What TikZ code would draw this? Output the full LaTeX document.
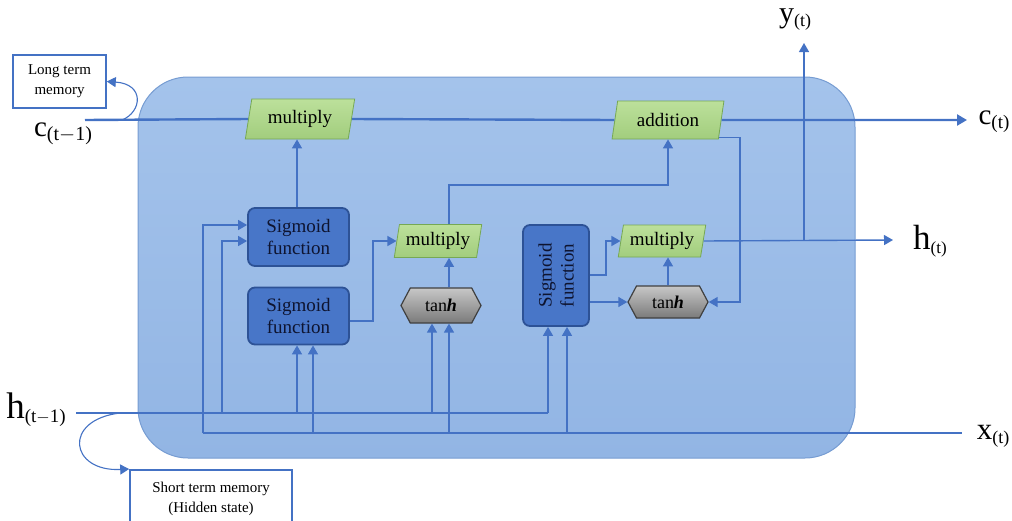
\documentclass[tikz,border=0pt]{standalone}
\usepackage{fontspec}
\setmainfont{Liberation Serif}
\usetikzlibrary{shapes.geometric,shapes.symbols,arrows.meta,calc}
\definecolor{lineblue}{RGB}{68,114,196}
\definecolor{celltop}{RGB}{164,195,235}
\definecolor{cellbot}{RGB}{146,181,228}
\definecolor{celledge}{RGB}{118,156,210}
\definecolor{sigfill}{RGB}{72,118,200}
\definecolor{sigedge}{RGB}{45,82,150}
\definecolor{sigtext}{RGB}{14,20,48}
\definecolor{greentop}{RGB}{188,224,155}
\definecolor{greenbot}{RGB}{162,205,125}
\definecolor{greenedge}{RGB}{118,168,84}
\newcommand\lblx[4]{{\fontsize{#3}{#3}\selectfont #1}\raisebox{-4pt}{\fontsize{#4}{#4}\selectfont #2}}
\begin{document}
\begin{tikzpicture}[x=1pt,y=-1pt,
  cell/.style={draw=celledge,line width=1pt,top color=celltop,bottom color=cellbot,rounded corners=50pt},
  sigbox/.style={draw=sigedge,line width=1.8pt,fill=sigfill,rounded corners=7pt,text=sigtext,
     font=\fontsize{19}{22}\selectfont,align=center,inner sep=1pt},
  opbox/.style={trapezium,trapezium left angle=77,trapezium right angle=103,trapezium stretches=true,
     draw=greenedge,line width=0.8pt,top color=greentop,bottom color=greenbot,
     font=\fontsize{19}{19}\selectfont,inner sep=1pt},
  tanhbox/.style={signal,signal to=east and west,signal pointer angle=124,draw=black!75,line width=1.2pt,
     top color=black!22,bottom color=black!52,font=\fontsize{18}{18}\selectfont,inner sep=1pt},
  memo/.style={draw=lineblue,line width=1.6pt,fill=white,align=center,font=\fontsize{15}{20}\selectfont},
  flow/.style={draw=lineblue,line width=1.4pt},
  arr/.style={flow,-{Triangle[width=10pt,length=9pt]}},
  main/.style={draw=lineblue,line width=2.4pt},
  lbl/.style={inner sep=0pt}]
\useasboundingbox (0,0) rectangle (1012,520);
\clip (0,0) rectangle (1012,520);

% cell body
\node[cell,minimum width=717pt,minimum height=381pt,inner sep=0pt] (cell) at (496.5,267.5) {};

% memory boxes
\node[memo,minimum width=93pt,minimum height=53pt,inner sep=0pt] (ltm) at (59.5,81.5) {Long term\\memory};
\node[memo,minimum width=162pt,minimum height=58pt,inner sep=0pt,anchor=north] (stm) at (211,469) {Short term memory\\(Hidden state)};

% operation nodes
\node[opbox,minimum width=110pt,minimum height=40pt] (mulA) at (300,119) {multiply};
\node[opbox,minimum width=112pt,minimum height=38pt] (add) at (668,120) {addition};
\node[opbox,minimum width=88pt,minimum height=33pt] (mulB) at (438,241) {multiply};
\node[opbox,minimum width=88pt,minimum height=32pt] (mulC) at (662,241) {multiply};
\node[sigbox,minimum width=101pt,minimum height=58pt] (sigA) at (298.5,237) {Sigmoid\\function};
\node[sigbox,minimum width=101pt,minimum height=57pt] (sigB) at (298.5,316) {Sigmoid\\function};
\node[sigbox,rotate=90,minimum width=101pt,minimum height=66pt] (sigC) at (556,275.5) {Sigmoid\\function};
\node[tanhbox,minimum width=80pt,minimum height=35pt] (tanhA) at (441,305.5) {tan\textbf{\textit{h}}};
\node[tanhbox,minimum width=80pt,minimum height=32pt] (tanhC) at (668,302) {tan\textbf{\textit{h}}};

% labels
\node[lbl] (lc0) at (63,134) {\lblx{c}{(t$-$1)}{29}{20}};
\node[lbl] (lh0) at (36,410) {\lblx{h}{(t$-$1)}{37}{19}};
\node[lbl] (ly) at (795,20) {\lblx{y}{(t)}{30}{18}};
\node[lbl] (lc) at (994,122) {\lblx{c}{(t)}{29}{19}};
\node[lbl] (lh) at (930,241) {\lblx{h}{(t)}{35}{17}};
\node[lbl] (lx) at (993,436) {\lblx{x}{(t)}{31}{18}};

% coordinates
\coordinate (cin) at (85,120);
\coordinate (cout) at (967,120);
\coordinate (ltstart) at (122,120);
\coordinate (ststart) at (120,413);
\coordinate (hin) at (76,413);
\coordinate (hrow) at (0,413);
\coordinate (xrow) at (0,433);
\coordinate (xend) at (962,433);
\coordinate (vx1) at (203,433);
\coordinate (vh1) at (222,413);
\coordinate (colB) at (449,0);
\coordinate (rowB) at (0,185);
\coordinate (colS) at (373,0);
\coordinate (colC) at (606,0);
\coordinate (colR) at (740,0);
\coordinate (jY) at (804,240);
\coordinate (ytip) at (804,43);
\coordinate (hout) at (893,240);
\coordinate (cB1) at (297,0);
\coordinate (cB2) at (313,0);
\coordinate (cT1) at (432,0);
\coordinate (cT2) at (449,0);
\coordinate (cS1) at (548,0);
\coordinate (cS2) at (567,0);

% cell state line
\draw[main] (cin) -- (mulA.west);
\draw[main] (mulA.east) -- (add.west);
\draw[main,-{Triangle[width=11pt,length=10pt]}] (add.east) -- (cout);
\draw[flow,line width=1.1pt,-{Triangle[width=10pt,length=9pt]}] (ltstart) .. controls (142,112) and (145,84) .. (ltm.east);

% hidden / input rows
\draw[main] (hin) -- (cS1 |- hrow);
\draw[main] (vx1) -- (xend);
\draw[flow,line width=1.1pt,-{Triangle[width=10pt,length=9pt]}] (ststart) .. controls (62,420) and (70,472) .. (stm.north west);

% branches to gates
\draw[arr] (vx1) |- ([yshift=12pt]sigA.west);
\draw[arr] (vh1) |- ([yshift=-4pt]sigA.west);
\draw[arr] (cB1 |- hrow) -- (cB1 |- sigB.south);
\draw[arr] (cB2 |- xrow) -- (cB2 |- sigB.south);
\draw[arr] (cT1 |- hrow) -- (cT1 |- tanhA.south);
\draw[arr] (cT2 |- xrow) -- (cT2 |- tanhA.south);
\draw[arr] (cS1 |- hrow) -- (cS1 |- sigC.west);
\draw[arr] (cS2 |- xrow) -- (cS2 |- sigC.west);

% internal flows
\draw[arr] (cB1 |- sigA.north) -- (cB1 |- mulA.south);
\draw[arr] ([yshift=-5pt]sigB.east) -| (colS |- mulB.west) -- (mulB.west);
\draw[arr] (cT2 |- tanhA.north) -- (cT2 |- mulB.south);
\draw[arr] (colB |- mulB.north) |- (add.south |- rowB) -- (add.south);
\draw[arr] (sigC.south |- 0,275) -| (colC |- mulC.west) -- (mulC.west);
\draw[arr] (sigC.south |- tanhC.west) -- (tanhC.west);
\draw[arr] (tanhC.north) -- (tanhC.north |- mulC.south);
\draw[arr] ([yshift=2pt]add.bottom right corner) -| (colR |- tanhC.east) -- (tanhC.east);
\draw[arr] (mulC.east) -- (hout);
\draw[arr] (jY) -- (ytip);
\end{tikzpicture}
\end{document}
